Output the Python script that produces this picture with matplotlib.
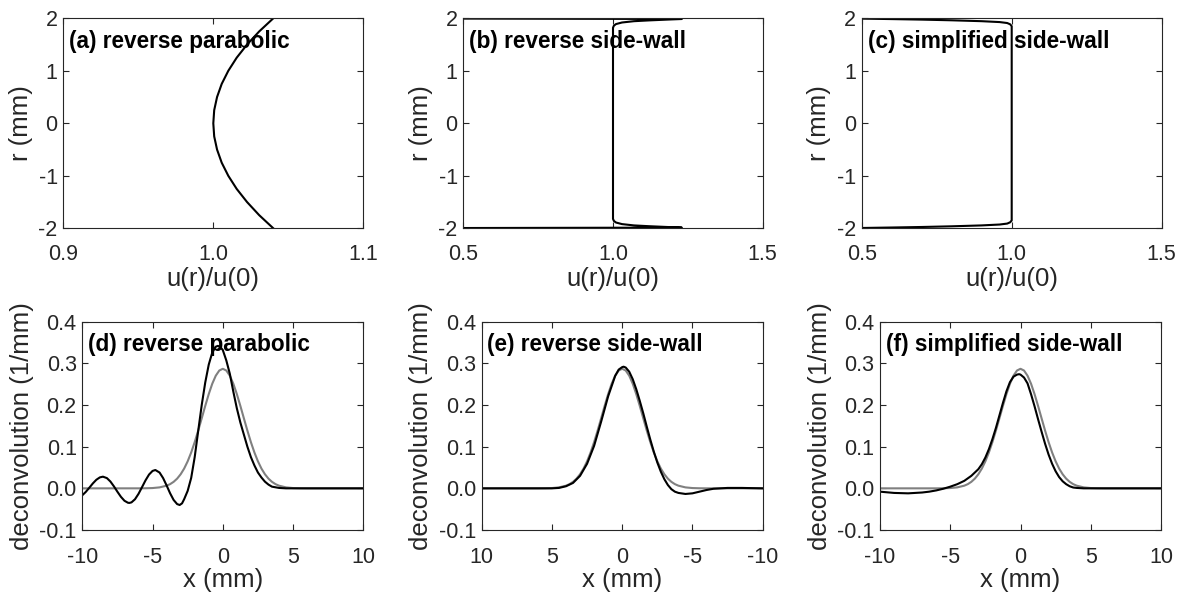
import numpy as np
import matplotlib
matplotlib.use('Agg')
import matplotlib.pyplot as plt
from matplotlib.ticker import FormatStrFormatter

plt.rcParams['font.family'] = ['Liberation Sans', 'DejaVu Sans']
plt.rcParams['axes.unicode_minus'] = False

# ---- top row: velocity profiles u(r)/u(0) ----
r_a = [-2.0, -1.75, -1.5, -1.25, -1.0, -0.75, -0.5, -0.25, 0.0,
       0.25, 0.5, 0.75, 1.0, 1.25, 1.5, 1.75, 2.0]
u_a = [1.04, 1.0306, 1.0225, 1.0156, 1.01, 1.0056, 1.0025, 1.0006, 1.0,
       1.0006, 1.0025, 1.0056, 1.01, 1.0156, 1.0225, 1.0306, 1.04]

r_b = [-2.0, -1.987, -1.975, -1.96, -1.945, -1.92, -1.89, -1.86, -1.82,
       1.82, 1.86, 1.89, 1.92, 1.945, 1.96, 1.975, 1.987, 2.0]
u_b = [0.0, 1.23, 1.18, 1.12, 1.07, 1.03, 1.01, 1.003, 1.0,
       1.0, 1.003, 1.01, 1.03, 1.07, 1.12, 1.18, 1.23, 0.0]

r_c = [-2.0, -1.994, -1.985, -1.975, -1.962, -1.945, -1.928, -1.91, -1.885, -1.85,
       1.85, 1.885, 1.91, 1.928, 1.945, 1.962, 1.975, 1.985, 1.994, 2.0]
u_c = [0.0, 0.5, 0.6, 0.7, 0.8, 0.9, 0.96, 0.985, 0.995, 1.0,
       1.0, 0.995, 0.985, 0.96, 0.9, 0.8, 0.7, 0.6, 0.5, 0.0]

# ---- bottom row: deconvolution results ----
# reference (gray) curve, same in all three panels
x_ref = [-10.0, -6.0, -5.5, -5.0, -4.5, -4.0, -3.75, -3.5, -3.25, -3.0, -2.75, -2.5,
         -2.25, -2.0, -1.75, -1.5, -1.25, -1.0, -0.75, -0.5, -0.25, 0.0,
         0.25, 0.5, 0.75, 1.0, 1.25, 1.5, 1.75, 2.0, 2.25, 2.5, 2.75, 3.0,
         3.25, 3.5, 3.75, 4.0, 4.5, 5.0, 5.5, 6.0, 10.0]
y_ref = [0.0, 0.0, 0.0002, 0.0007, 0.0023, 0.0064, 0.0101, 0.0156, 0.0233, 0.0338, 0.0475, 0.0649,
         0.0861, 0.1109, 0.1386, 0.1681, 0.1979, 0.2262, 0.2511, 0.2704, 0.2828, 0.287,
         0.2828, 0.2704, 0.2511, 0.2262, 0.1979, 0.1681, 0.1386, 0.1109, 0.0861, 0.0649, 0.0475, 0.0338,
         0.0233, 0.0156, 0.0101, 0.0064, 0.0023, 0.0007, 0.0002, 0.0, 0.0]

x_d = [-10.0, -9.75, -9.5, -9.25, -9.0, -8.75, -8.53, -8.25, -8.0, -7.75, -7.5, -7.25,
       -7.0, -6.75, -6.65, -6.5, -6.25, -6.0, -5.75, -5.5, -5.25, -5.0, -4.8,
       -4.5, -4.25, -4.0, -3.75, -3.5, -3.25, -3.07, -2.9, -2.75, -2.5, -2.25,
       -2.0, -1.75, -1.5, -1.25, -1.0, -0.75, -0.5, -0.35, -0.2, 0.0, 0.25, 0.5,
       0.75, 1.0, 1.25, 1.5, 1.75, 2.0, 2.25, 2.5, 2.75, 3.0, 3.25, 3.5, 4.0, 4.5, 10.0]
y_d = [-0.0166, -0.0085, 0.0015, 0.0118, 0.0206, 0.0263, 0.028, 0.0246, 0.0164, 0.0048, -0.0082, -0.0204,
       -0.0298, -0.0346, -0.035, -0.0337, -0.0262, -0.0133, 0.0028, 0.0192, 0.0331, 0.0418, 0.044,
       0.0379, 0.0247, 0.0070, -0.0119, -0.0279, -0.0378, -0.040, -0.036, -0.026, -0.006, 0.025,
       0.075, 0.138, 0.200, 0.254, 0.297, 0.326, 0.340, 0.342, 0.340, 0.332, 0.307, 0.275,
       0.232, 0.192, 0.158, 0.129, 0.100, 0.075, 0.055, 0.038, 0.026, 0.016, 0.009, 0.004, 0.001, 0.0, 0.0]

x_e = [10.0, 5.0, 4.5, 4.0, 3.5, 3.0, 2.5, 2.0, 1.5, 1.0, 0.5, 0.25, 0.0, -0.1,
       -0.25, -0.5, -0.75, -1.0, -1.25, -1.5, -1.75, -2.0, -2.25, -2.5, -2.75,
       -3.0, -3.25, -3.5, -3.75, -4.0, -4.5, -5.0, -5.5, -6.0, -6.5, -7.0, -7.5,
       -8.5, -10.0]
y_e = [0.0, 0.0, 0.001, 0.005, 0.013, 0.030, 0.059, 0.102, 0.160, 0.221, 0.270, 0.285, 0.291, 0.292,
       0.290, 0.280, 0.262, 0.238, 0.210, 0.180, 0.148, 0.117, 0.088, 0.062, 0.040,
       0.022, 0.008, -0.002, -0.008, -0.011, -0.0135, -0.012, -0.008, -0.004, -0.001, 0.0, 0.001,
       0.001, 0.0]

x_f = [-10.0, -9.0, -8.0, -7.0, -6.5, -6.0, -5.5, -5.0, -4.5, -4.0, -3.5, -3.0,
       -2.75, -2.5, -2.25, -2.0, -1.75, -1.5, -1.25, -1.0, -0.75, -0.5, -0.25, -0.1,
       0.0, 0.25, 0.5, 0.75, 1.0, 1.25, 1.5, 1.75, 2.0, 2.25, 2.5, 2.75, 3.0,
       3.25, 3.5, 3.75, 4.0, 4.5, 10.0]
y_f = [-0.008, -0.011, -0.012, -0.010, -0.008, -0.005, -0.001, 0.004, 0.010, 0.018, 0.030, 0.046,
       0.058, 0.074, 0.094, 0.118, 0.145, 0.175, 0.205, 0.233, 0.255, 0.268, 0.273, 0.274,
       0.273, 0.266, 0.252, 0.226, 0.197, 0.166, 0.136, 0.107, 0.081, 0.059, 0.041, 0.027, 0.017,
       0.010, 0.005, 0.002, 0.001, 0.0, 0.0]

top_labels = ['(a) reverse parabolic', '(b) reverse side-wall', '(c) simplified side-wall']
bot_labels = ['(d) reverse parabolic', '(e) reverse side-wall', '(f) simplified side-wall']

W, H = 1178, 598
fig = plt.figure(figsize=(W / 100, H / 100), dpi=100)

def px_axes(left, right, top, bottom):
    return fig.add_axes([left / W, 1 - bottom / H, (right - left) / W, (bottom - top) / H])

dark = '#262626'

def style(ax, xpad):
    ax.tick_params(direction='in', top=True, right=True, length=4, width=0.8,
                   colors=dark, labelsize=15.5)
    ax.tick_params(axis='x', pad=xpad)
    ax.tick_params(axis='y', pad=4)
    for s in ax.spines.values():
        s.set_color(dark)
        s.set_linewidth(0.8)

# top row
top_pos = [(63.3, 363.3), (463.3, 762.7), (861.7, 1161.7)]
top_data = [(u_a, r_a, (0.9, 1.1), [0.9, 1.0, 1.1]),
            (u_b, r_b, (0.5, 1.5), [0.5, 1.0, 1.5]),
            (u_c, r_c, (0.5, 1.5), [0.5, 1.0, 1.5])]
for (l, r), (u, rr, xl, xt), lab in zip(top_pos, top_data, top_labels):
    ax = px_axes(l, r, 18.3, 228.3)
    ax.plot(u, rr, color='black', lw=1.5)
    ax.set_xlim(*xl)
    ax.set_ylim(-2, 2)
    ax.set_xticks(xt)
    ax.set_yticks([-2, -1, 0, 1, 2])
    ax.xaxis.set_major_formatter(FormatStrFormatter('%.1f'))
    style(ax, 11)
    ax.set_xlabel('u(r)/u(0)', fontsize=18.5, color=dark, labelpad=2)
    ax.set_ylabel('r (mm)', fontsize=18.5, color=dark, labelpad=4)
    ax.text(0.02, 0.945, lab, transform=ax.transAxes, fontsize=16.3,
            fontweight='bold', va='top', ha='left')

# bottom row
bot_pos = [(82.3, 363.3), (481.7, 762.7), (880, 1161)]
bot_data = [(x_d, y_d, (-10, 10)), (x_e, y_e, (10, -10)), (x_f, y_f, (-10, 10))]
for (l, r), (xx, yy, xl), lab in zip(bot_pos, bot_data, bot_labels):
    ax = px_axes(l, r, 321.7, 530)
    ax.plot(x_ref, y_ref, color='#808080', lw=1.5)
    ax.plot(xx, yy, color='black', lw=1.5)
    ax.set_xlim(*xl)
    ax.set_ylim(-0.1, 0.4)
    ax.set_xticks([-10, -5, 0, 5, 10])
    ax.set_yticks([-0.1, 0.0, 0.1, 0.2, 0.3, 0.4])
    ax.yaxis.set_major_formatter(FormatStrFormatter('%.1f'))
    style(ax, 12.5)
    ax.set_xlabel('x (mm)', fontsize=18.5, color=dark, labelpad=0)
    ax.set_ylabel('deconvolution (1/mm)', fontsize=18.5, color=dark, labelpad=4)
    ax.text(0.02, 0.945, lab, transform=ax.transAxes, fontsize=16.3,
            fontweight='bold', va='top', ha='left')

fig.savefig('out.png', dpi=100)
